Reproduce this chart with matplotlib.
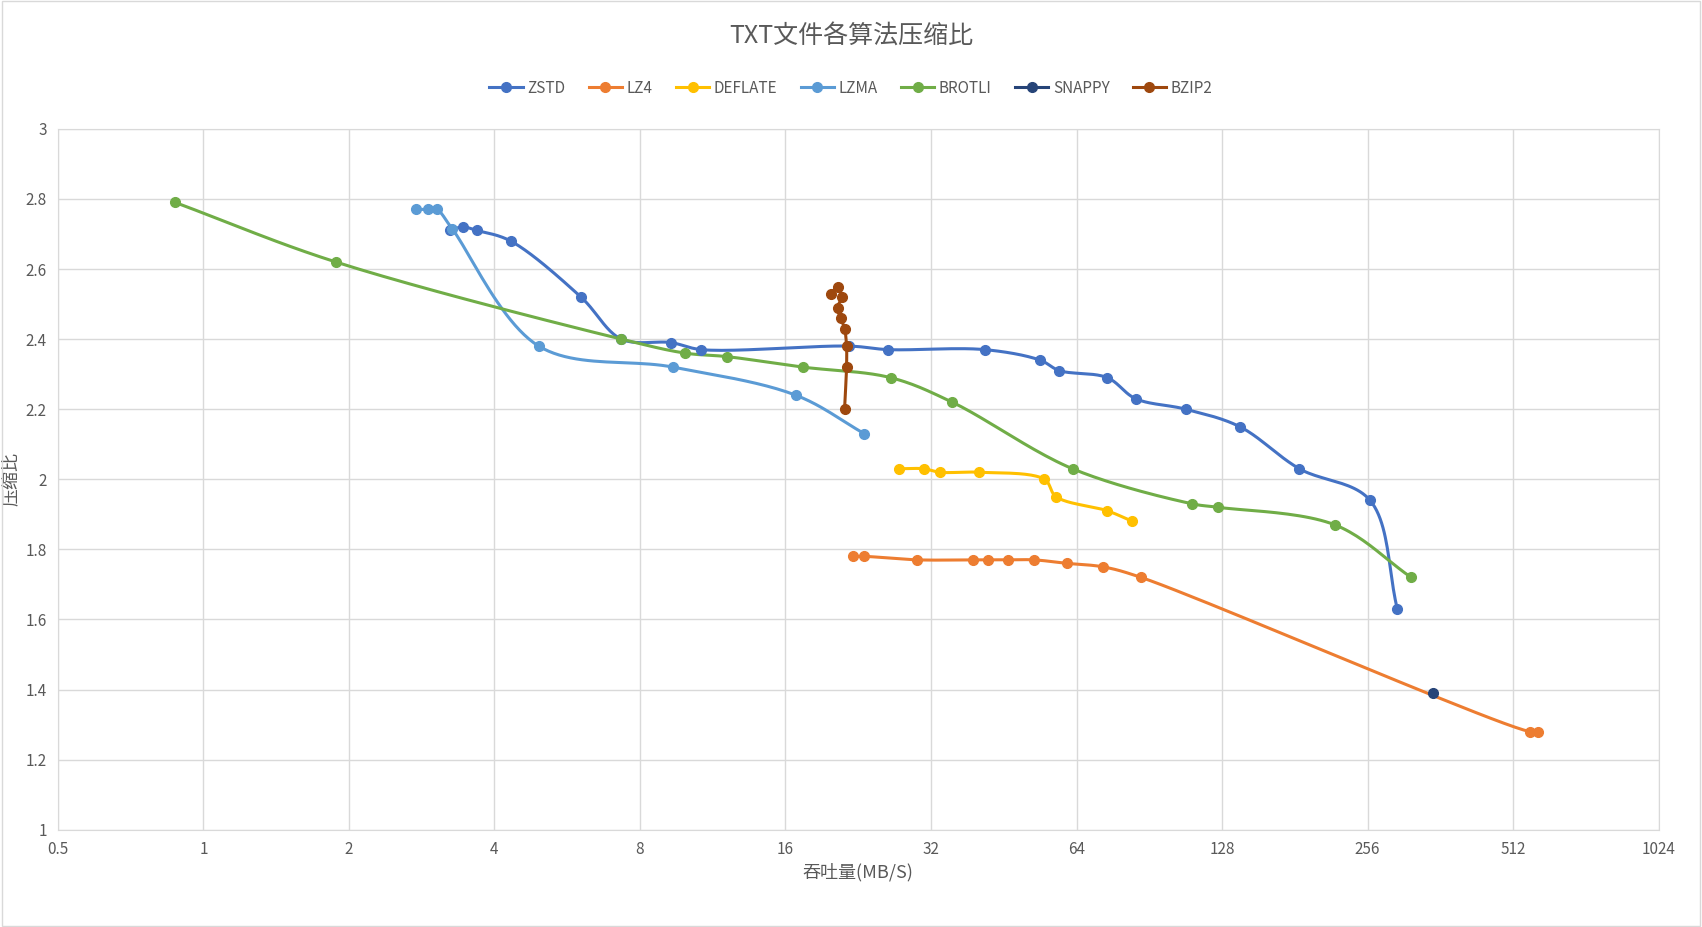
import numpy as np
import matplotlib
matplotlib.use("Agg")
import matplotlib.pyplot as plt
from matplotlib import font_manager as fm
from matplotlib.ticker import FixedLocator, NullLocator

cjk = None
for f in fm.findSystemFonts():
    if "NotoSansCJK" in f.replace(" ", "") or "NotoSansSC" in f.replace(" ", ""):
        try:
            fm.fontManager.addfont(f)
        except Exception:
            pass
        cjk = f
        if "SC" in f or ".ttc" in f:
            break
names = []
if cjk:
    try:
        names.append(fm.FontProperties(fname=cjk).get_name())
    except Exception:
        pass
plt.rcParams["font.family"] = ["sans-serif"]
plt.rcParams["font.sans-serif"] = names + ["Noto Sans CJK SC", "Noto Sans CJK JP", "DejaVu Sans"]

zstd_x = [3.23, 3.44, 3.68, 4.32, 6.04, 7.32, 9.28, 10.72, 21.7, 26.1, 41.3, 53.8, 59.0, 74.1, 84.8, 107.6, 139.3, 185, 259, 295]
zstd_y = [2.71, 2.72, 2.71, 2.68, 2.52, 2.40, 2.39, 2.37, 2.38, 2.37, 2.37, 2.34, 2.31, 2.29, 2.23, 2.20, 2.15, 2.03, 1.94, 1.63]
lz4_x = [22.1, 23.3, 30.0, 39.0, 42.0, 46.1, 52.2, 61.2, 72.6, 87.0, 554, 577]
lz4_y = [1.78, 1.78, 1.77, 1.77, 1.77, 1.77, 1.77, 1.76, 1.75, 1.72, 1.28, 1.28]
deflate_x = [27.5, 30.9, 33.4, 40.3, 54.9, 58.1, 74.1, 83.5]
deflate_y = [2.03, 2.03, 2.02, 2.02, 2.00, 1.95, 1.91, 1.88]
lzma_x = [2.75, 2.92, 3.04, 3.27, 4.94, 9.37, 16.8, 23.3]
lzma_y = [2.77, 2.77, 2.77, 2.715, 2.38, 2.32, 2.24, 2.13]
brotli_x = [0.874, 1.88, 7.32, 9.92, 12.1, 17.4, 26.4, 35.4, 62.8, 111, 125.6, 219, 315]
brotli_y = [2.79, 2.62, 2.40, 2.36, 2.35, 2.32, 2.29, 2.22, 2.03, 1.93, 1.92, 1.87, 1.72]
snappy_x = [349]
snappy_y = [1.39]
bzip2_x = [19.9, 20.5, 20.9, 20.5, 20.8, 21.2, 21.4, 21.4, 21.2]
bzip2_y = [2.53, 2.55, 2.52, 2.49, 2.46, 2.43, 2.38, 2.32, 2.20]

series = [
    ("ZSTD", zstd_x, zstd_y, "#4472C4"),
    ("LZ4", lz4_x, lz4_y, "#ED7D31"),
    ("DEFLATE", deflate_x, deflate_y, "#FFC000"),
    ("LZMA", lzma_x, lzma_y, "#5B9BD5"),
    ("BROTLI", brotli_x, brotli_y, "#70AD47"),
    ("SNAPPY", snappy_x, snappy_y, "#264478"),
    ("BZIP2", bzip2_x, bzip2_y, "#9E480E"),
]

def smooth(xs, ys, n=24):
    # centripetal Catmull-Rom in screen-proportional space
    lx = np.log2(np.array(xs, float)) / 11.0 * 1475
    y = np.array(ys, float) / 2.0 * 646
    if len(lx) < 3:
        return np.array(xs, float), np.array(ys, float)
    P = np.column_stack([lx, y])
    P = np.vstack([2*P[0]-P[1], P, 2*P[-1]-P[-2]])
    out = []
    for i in range(1, len(P) - 2):
        p0, p1, p2, p3 = P[i-1], P[i], P[i+1], P[i+2]
        def tj(ti, a, b):
            return ti + max(np.linalg.norm(b - a), 1e-6) ** 0.5
        t0 = 0.0; t1 = tj(t0, p0, p1); t2 = tj(t1, p1, p2); t3 = tj(t2, p2, p3)
        t = np.linspace(t1, t2, n)[:, None]
        A1 = (t1-t)/(t1-t0)*p0 + (t-t0)/(t1-t0)*p1
        A2 = (t2-t)/(t2-t1)*p1 + (t-t1)/(t2-t1)*p2
        A3 = (t3-t)/(t3-t2)*p2 + (t-t2)/(t3-t2)*p3
        B1 = (t2-t)/(t2-t0)*A1 + (t-t0)/(t2-t0)*A2
        B2 = (t3-t)/(t3-t1)*A2 + (t-t1)/(t3-t1)*A3
        C = (t2-t)/(t2-t1)*B1 + (t-t1)/(t2-t1)*B2
        out.append(C)
    c = np.vstack(out)
    return 2 ** (c[:, 0] / 1475 * 11.0), c[:, 1] / 646 * 2.0

fig = plt.figure(figsize=(17.02, 9.27), dpi=100)
ax = fig.add_axes([0.034, 0.105, 0.9405, 0.756])
for name, xs, ys, col in series:
    sx, sy = smooth(xs, ys)
    ax.plot(sx, sy, color=col, lw=2.2, zorder=3)
    ax.plot(xs, ys, "o", color=col, ms=7, zorder=4)
    ax.plot([], [], "-o", color=col, lw=2.2, ms=7, label=name)

ax.set_xscale("log", base=2)
ax.set_xlim(0.5, 1024)
ax.set_ylim(1, 3)
xt = [0.5, 1, 2, 4, 8, 16, 32, 64, 128, 256, 512, 1024]
ax.xaxis.set_major_locator(FixedLocator(xt))
ax.xaxis.set_minor_locator(NullLocator())
ax.set_xticklabels(["0.5"] + [str(int(v)) for v in xt[1:]])
yt = np.arange(1, 3.01, 0.2)
ax.set_yticks(yt)
ax.set_yticklabels(["1", "1.2", "1.4", "1.6", "1.8", "2", "2.2", "2.4", "2.6", "2.8", "3"])
ax.grid(True, color="#D9D9D9", lw=1)
ax.set_axisbelow(True)
for s in ax.spines.values():
    s.set_color("#D9D9D9")
ax.tick_params(length=0, colors="#595959", labelsize=11, pad=8)
ax.set_xlabel("吞吐量(MB/S)", color="#595959", fontsize=13)
ax.set_ylabel("压缩比", color="#595959", fontsize=13)
fig.text(0.5, 0.962, "TXT文件各算法压缩比", ha="center", va="center", fontsize=18, color="#595959")
fig.legend(loc="center", bbox_to_anchor=(0.5, 0.905), ncol=7, frameon=False,
           fontsize=11, labelcolor="#595959", handlelength=2.2, columnspacing=1.5, handletextpad=0.3)
fig.patches.append(plt.Rectangle((0.001, 0.001), 0.998, 0.998, transform=fig.transFigure,
                                 fill=False, edgecolor="#D9D9D9", lw=1))
fig.savefig("out.png", dpi=100)
